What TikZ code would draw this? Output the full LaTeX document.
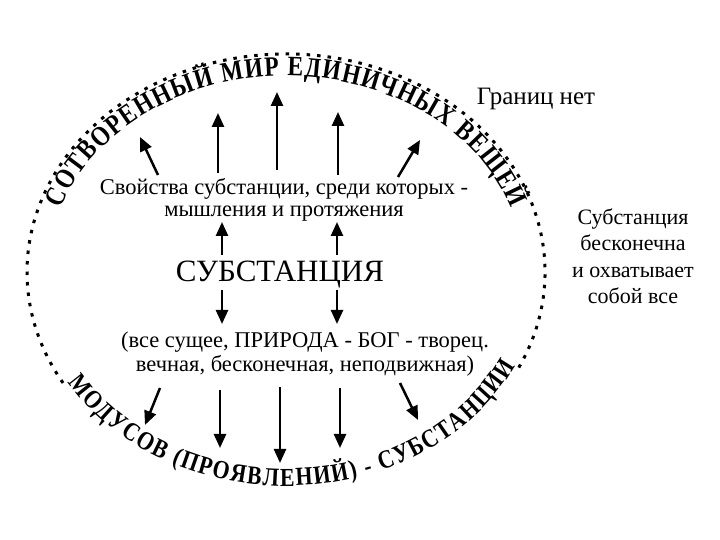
\documentclass[tikz,border=0pt]{standalone}
\usepackage{fontspec}
\setmainfont{Liberation Serif}
\newfontfamily\arcfont[FakeStretch=0.84]{Liberation Serif}
\usetikzlibrary{arrows.meta,decorations.text}
\begin{document}
\begin{tikzpicture}[x=1pt,y=1pt,
  arr/.style={line width=2.5pt, -{Triangle[length=14pt,width=12pt]}},
  dotline/.style={line width=3pt, dash pattern=on 3.5pt off 7pt},
  txt/.style={inner sep=0pt, align=center}]
\useasboundingbox (0,0) rectangle (720,540);
\coordinate (ctr) at (286,268);
% dotted circle (open at the bottom where the text lies)
\draw[dotline] ([shift={(-26:259 and 218)}]ctr) arc[start angle=-26,end angle=211,x radius=259,y radius=218];
% text along the circle
\path[decorate, decoration={text along path, text align=fit to path,
  text={|\arcfont\fontsize{28}{28}\selectfont\bfseries|СОТВОРЕННЫЙ МИР ЕДИНИЧНЫХ ВЕЩЕЙ}}]
  ([shift={(161:238 and 196)}]ctr) arc[start angle=161,end angle=19,x radius=238,y radius=196];
\path[decorate, decoration={text along path, text align=fit to path,
  text={|\arcfont\fontsize{26}{26}\selectfont\bfseries|МОДУСОВ (ПРОЯВЛЕНИЙ) - СУБСТАНЦИИ}}]
  ([shift={(211:255 and 214)}]ctr) arc[start angle=211,end angle=334,x radius=255,y radius=214];
% texts
\node[txt, font=\fontsize{25}{26}\selectfont] (granic) at (536,441) {Границ нет};
\node[txt, font=\fontsize{22}{26.5}\selectfont] (right) at (633,284) {Субстанция\\бесконечна\\и охватывает\\собой все};
\node[txt, font=\fontsize{22.5}{22}\selectfont] (props) at (284,340) {Свойства субстанции, среди которых -\\мышления и протяжения};
\node[txt, font=\fontsize{31}{30}\selectfont] (subst) at (280,265) {СУБСТАНЦИЯ};
\node[txt, font=\fontsize{22.5}{24}\selectfont] (nature) at (305,186) {(все сущее, ПРИРОДА - БОГ - творец.\\вечная, бесконечная, неподвижная)};
% arrow end points
\coordinate (u1a) at (158,365); \coordinate (u1b) at (140,403);
\coordinate (u2a) at (218,367); \coordinate (u2b) at (218,427);
\coordinate (u3a) at (277,370); \coordinate (u3b) at (277,448);
\coordinate (u4a) at (338,365); \coordinate (u4b) at (338,428);
\coordinate (u5a) at (398,363); \coordinate (u5b) at (420,400);
\coordinate (m1a) at (222,285); \coordinate (m1b) at (222,318);
\coordinate (m2a) at (337,285); \coordinate (m2b) at (337,318);
\coordinate (m3a) at (222,250); \coordinate (m3b) at (222,216);
\coordinate (m4a) at (337,250); \coordinate (m4b) at (337,216);
\coordinate (l1a) at (160,152); \coordinate (l1b) at (145,115);
\coordinate (l2a) at (220,150); \coordinate (l2b) at (220,92);
\coordinate (l3a) at (280,153); \coordinate (l3b) at (280,77);
\coordinate (l4a) at (340,152); \coordinate (l4b) at (340,92);
\coordinate (l5a) at (400,157); \coordinate (l5b) at (418,120);
\foreach \a in {u1,u2,u3,u4,u5,m1,m2,m3,m4,l1,l2,l3,l4,l5}
  \draw[arr] (\a a) -- (\a b);
\end{tikzpicture}
\end{document}
